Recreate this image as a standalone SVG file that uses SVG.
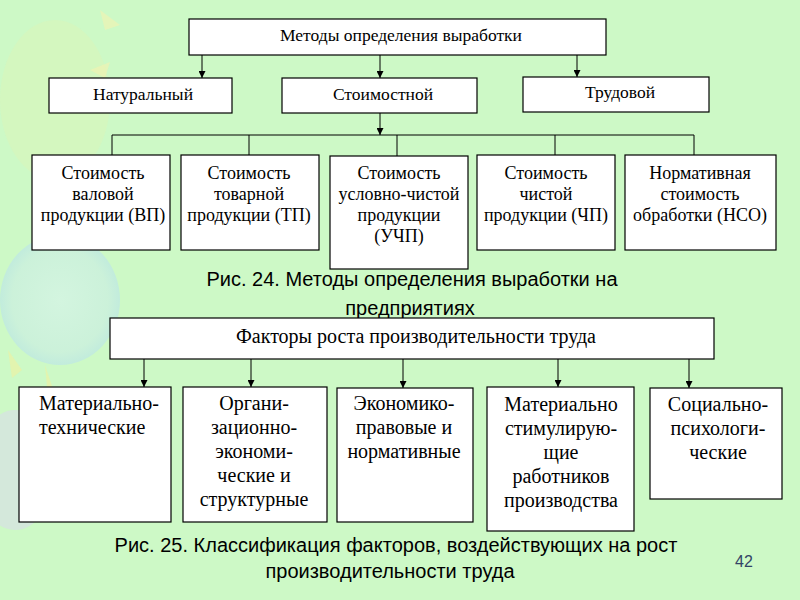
<svg xmlns="http://www.w3.org/2000/svg" width="800" height="600" viewBox="0 0 800 600">
<defs>
<style>
.box{fill:#fff;stroke:#000;stroke-width:1.2}
.ln{fill:none;stroke:#000;stroke-width:1}
.t{font-family:"Liberation Serif","Times New Roman",serif;fill:#000;text-anchor:middle}
.s17{font-size:17.5px}
.s18{font-size:18px}
.s20{font-size:20px}
.l{text-anchor:start}
.cap{font-family:"Liberation Sans",Arial,sans-serif;font-size:20px;fill:#000;text-anchor:middle}
</style>
<marker id="ah" viewBox="0 0 10 10" refX="10" refY="5" markerWidth="7" markerHeight="7" markerUnits="userSpaceOnUse" orient="auto">
<path d="M0,0 L10,5 L0,10 z" fill="#000"/>
</marker>
<radialGradient id="bal" cx="0.5" cy="0.5" r="0.5">
<stop offset="0" stop-color="#d6f3ea"/>
<stop offset="0.8" stop-color="#cbeee2"/>
<stop offset="1" stop-color="#bde6e6"/>
</radialGradient>
</defs>
<rect width="800" height="600" fill="#cdf9c6"/>
<ellipse cx="55" cy="100" rx="55" ry="80" fill="#d8f5bb" opacity="0.6"/>
<ellipse cx="60" cy="300" rx="60" ry="65" fill="url(#bal)" opacity="0.7"/>
<ellipse cx="15" cy="470" rx="40" ry="60" fill="#dcd8f0" opacity="0.5"/>
<path d="M100,10 L120,25 L105,30 z" fill="#f4f2b0" opacity="0.6"/>
<path d="M90,70 L110,62 L105,78 z" fill="#f4f2b0" opacity="0.6"/>
<path d="M8,350 L22,370 L12,378 z" fill="#f0f0a0" opacity="0.6"/>
<path d="M45,365 L55,395 L48,398 z" fill="#f0f0a0" opacity="0.6"/>

<g id="connectors">
<line class="ln" x1="202" y1="55" x2="202" y2="78" marker-end="url(#ah)"/>
<line class="ln" x1="380" y1="55" x2="380" y2="78" marker-end="url(#ah)"/>
<line class="ln" x1="577" y1="55" x2="577" y2="77" marker-end="url(#ah)"/>
<line class="ln" x1="380" y1="113" x2="380" y2="135" marker-end="url(#ah)"/>
<polyline class="ln" points="112,155 112,135 694,135 694,155"/>
<line class="ln" x1="249" y1="135" x2="249" y2="155"/>
<line class="ln" x1="397" y1="135" x2="397" y2="156"/>
<line class="ln" x1="555" y1="135" x2="555" y2="155"/>
<line class="ln" x1="144" y1="359" x2="144" y2="387" marker-end="url(#ah)"/>
<line class="ln" x1="251" y1="359" x2="251" y2="387" marker-end="url(#ah)"/>
<line class="ln" x1="403" y1="359" x2="403" y2="388" marker-end="url(#ah)"/>
<line class="ln" x1="558" y1="359" x2="558" y2="387" marker-end="url(#ah)"/>
<line class="ln" x1="689" y1="359" x2="689" y2="388" marker-end="url(#ah)"/>
</g>

<g id="n-methods">
<rect class="box" x="189" y="19" width="417" height="36"/>
<text class="t s17" x="401" y="41">Методы определения выработки</text>
</g>
<g id="n-natural">
<rect class="box" x="49" y="78" width="183" height="35"/>
<text class="t s17" x="143" y="100">Натуральный</text>
</g>
<g id="n-cost">
<rect class="box" x="282" y="78" width="195" height="35"/>
<text class="t s17" x="383" y="100">Стоимостной</text>
</g>
<g id="n-labor">
<rect class="box" x="523" y="77" width="186" height="35"/>
<text class="t s17" x="620" y="98">Трудовой</text>
</g>

<g id="n-vp">
<rect class="box" x="32" y="155" width="138" height="95"/>
<text class="t s18" x="103" y="179">Стоимость</text>
<text class="t s18" x="103" y="200">валовой</text>
<text class="t s18" x="103" y="221">продукции (ВП)</text>
</g>
<g id="n-tp">
<rect class="box" x="181" y="155" width="138" height="95"/>
<text class="t s18" x="249" y="179">Стоимость</text>
<text class="t s18" x="249" y="200">товарной</text>
<text class="t s18" x="249" y="221">продукции (ТП)</text>
</g>
<g id="n-uchp">
<rect class="box" x="330" y="156" width="138" height="113"/>
<text class="t s18" x="399" y="179">Стоимость</text>
<text class="t s18" x="399" y="200">условно-чистой</text>
<text class="t s18" x="399" y="221">продукции</text>
<text class="t s18" x="399" y="242">(УЧП)</text>
</g>
<g id="n-chp">
<rect class="box" x="477" y="155" width="138" height="95"/>
<text class="t s18" x="546" y="179">Стоимость</text>
<text class="t s18" x="546" y="200">чистой</text>
<text class="t s18" x="546" y="221">продукции (ЧП)</text>
</g>
<g id="n-nso">
<rect class="box" x="625" y="155" width="151" height="95"/>
<text class="t s18" x="700" y="179">Нормативная</text>
<text class="t s18" x="700" y="200">стоимость</text>
<text class="t s18" x="700" y="221">обработки (НСО)</text>
</g>

<text class="cap" x="412" y="286">Рис. 24. Методы определения выработки на</text>
<text class="cap" x="410" y="315">предприятиях</text>

<g id="n-factors">
<rect class="box" x="110" y="318" width="604" height="41"/>
<text class="t s20" x="416" y="343">Факторы роста производительности труда</text>
</g>

<g id="n-mt">
<rect class="box" x="19" y="387" width="152" height="135"/>
<text class="t s20 l" x="39" y="410">Материально-</text>
<text class="t s20 l" x="39" y="434">технические</text>
</g>
<g id="n-org">
<rect class="box" x="183" y="387" width="144" height="135"/>
<text class="t s20" x="254" y="410">Органи-</text>
<text class="t s20" x="254" y="434">зационно-</text>
<text class="t s20" x="254" y="458">экономи-</text>
<text class="t s20" x="254" y="482">ческие и</text>
<text class="t s20" x="254" y="506">структурные</text>
</g>
<g id="n-econ">
<rect class="box" x="337" y="388" width="136" height="134"/>
<text class="t s20" x="404" y="410">Экономико-</text>
<text class="t s20" x="404" y="434">правовые и</text>
<text class="t s20" x="404" y="458">нормативные</text>
</g>
<g id="n-stim">
<rect class="box" x="487" y="387" width="147" height="144"/>
<text class="t s20" x="561" y="411">Материально</text>
<text class="t s20" x="561" y="435">стимулирую-</text>
<text class="t s20" x="561" y="459">щие</text>
<text class="t s20" x="561" y="483">работников</text>
<text class="t s20" x="561" y="507">производства</text>
</g>
<g id="n-soc">
<rect class="box" x="650" y="388" width="132" height="111"/>
<text class="t s20" x="718" y="411">Социально-</text>
<text class="t s20" x="718" y="435">психологи-</text>
<text class="t s20" x="718" y="459">ческие</text>
</g>

<text class="cap" x="396" y="552">Рис. 25. Классификация факторов, воздействующих на рост</text>
<text class="cap" x="390" y="578">производительности труда</text>
<text x="744" y="567" style="font-family:'Liberation Sans',Arial,sans-serif;font-size:16px;fill:#334466;text-anchor:middle">42</text>
</svg>
